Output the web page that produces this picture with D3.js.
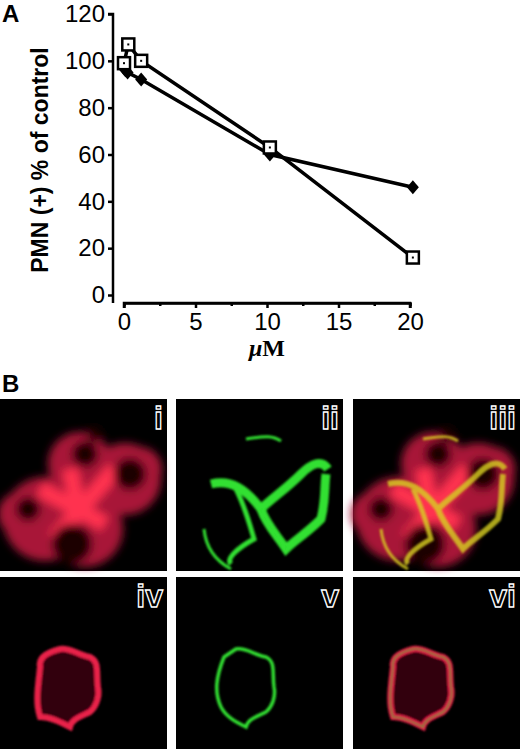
<!DOCTYPE html>
<html><head><meta charset="utf-8">
<script src="https://cdn.jsdelivr.net/npm/d3@7"></script>
<style>body{margin:0;background:#fff}svg{display:block}</style>
</head><body>
<svg id="fig" width="520" height="749"></svg>
<script>
// panel A data
const xTicks = [0, 5, 10, 15, 20];
const yTicks = [0, 20, 40, 60, 80, 100, 120];
const squareX = [0, 0.3, 1.2, 10.2, 20.2];
const squareY = [99, 107, 100, 63, 16];
const diamondX = [0, 0.1, 0.25, 1.2, 10.2, 20.2];
const diamondY = [98, 96, 95, 92, 60, 46];
const panelLabels = ["i", "ii", "iii", "iv", "v", "vi"];

const svg = d3.select('#fig');
const x = d3.scaleLinear().domain([0, 20]).range([124, 410]);
const y = d3.scaleLinear().domain([0, 120]).range([295, 14]);

svg.append('text').attr('x', 2).attr('y', 22).text('A')
  .style('font', 'bold 24px Liberation Sans, Arial');

const yAx = svg.append('g').attr('transform', 'translate(113,0)')
  .call(d3.axisLeft(y).tickValues(yTicks).tickSize(5).tickPadding(3));
const xAx = svg.append('g').attr('transform', 'translate(0,303)')
  .call(d3.axisBottom(x).tickValues(xTicks).tickSize(5).tickPadding(5));
xAx.append('g').call(d3.axisBottom(x).tickValues([2.5, 7.5, 12.5, 17.5]).tickSize(3).tickFormat(''));
[yAx, xAx].forEach(a => {
  a.attr('font-size', 24).attr('font-family', 'Liberation Sans, Arial');
  a.selectAll('path,line').attr('stroke', '#000').attr('stroke-width', 2.5);
  a.selectAll('text').attr('fill', '#000');
});
yAx.select('.domain').attr('d', 'M-5,' + y(120) + 'H0V' + (y(0) + 8));
xAx.select('.domain').attr('d', 'M' + (x(0)) + ',5V0H' + x(20) + 'V5');

svg.append('text').attr('transform', 'translate(48,160) rotate(-90)')
  .attr('text-anchor', 'middle').text('PMN (+) % of control')
  .style('font', 'bold 23px Liberation Sans, Arial');
svg.append('text').attr('x', 267).attr('y', 356).attr('text-anchor', 'middle')
  .style('font', 'bold italic 24px Liberation Serif, Times New Roman')
  .html('<tspan>μ</tspan><tspan font-style="normal">M</tspan>');

const line = d3.line().x(d => x(d[0])).y(d => y(d[1]));
const sq = squareX.map((v, i) => [v, squareY[i]]);
const di = diamondX.map((v, i) => [v, diamondY[i]]);
[sq, di].forEach(s => svg.append('path').attr('d', line(s)).attr('fill', 'none')
  .attr('stroke', '#000').attr('stroke-width', 3.5));
svg.selectAll('.dm').data(di).join('path')
  .attr('transform', d => `translate(${x(d[0])},${y(d[1])})`)
  .attr('d', 'M0,-7L6,0L0,7L-6,0Z').attr('fill', '#000');
svg.selectAll('.sq').data(sq).join('rect')
  .attr('x', d => x(d[0]) - 6).attr('y', d => y(d[1]) - 6)
  .attr('width', 12).attr('height', 12)
  .attr('fill', '#fff').attr('stroke', '#000').attr('stroke-width', 2.5);
svg.selectAll('.sqc').data(sq).join('rect')
  .attr('x', d => x(d[0]) - 1).attr('y', d => y(d[1]) - 1)
  .attr('width', 2).attr('height', 2).attr('fill', '#000');

// panel B
svg.append('text').attr('x', 2).attr('y', 392).text('B')
  .style('font', 'bold 24px Liberation Sans, Arial');
const defs = svg.append('defs');
defs.append('filter').attr('id', 'bl').append('feGaussianBlur').attr('stdDeviation', 4);
defs.append('filter').attr('id', 'bl2').append('feGaussianBlur').attr('stdDeviation', 1.3);

const cols = [0, 176, 353], rows = [399, 577], w = 167, h = 172;
const red = '#e82048', green = '#30e030', yellow = '#d8d020';

function cluster(g, kind) {
  const blobs = [[45, 120, 42], [80, 65, 32], [125, 80, 36], [85, 130, 38], [20, 115, 22], [140, 70, 22]];
  const nuclei = [[85, 55, 13], [95, 35, 8], [130, 75, 16], [72, 145, 20], [28, 110, 12], [110, 100, 0]];
  if (kind !== 'g') {
    const b = g.append('g').attr('filter', 'url(#bl)');
    blobs.forEach(c => b.append('circle').attr('cx', c[0]).attr('cy', c[1]).attr('r', c[2]).attr('fill', '#a81838'));
    b.append('path').attr('d', 'M40,90 L105,125 M115,70 L55,140 M70,70 L80,120').attr('stroke', '#ff3050').attr('stroke-width', 16);
    nuclei.forEach(c => b.append('circle').attr('cx', c[0]).attr('cy', c[1]).attr('r', c[2]).attr('fill', '#1a0000'));
  }
  if (kind !== 'r') {
    const gr = g.append('g').attr('filter', 'url(#bl2)').attr('fill', 'none')
      .attr('stroke', kind === 'g' ? green : yellow).attr('stroke-width', kind === 'g' ? 9 : 6)
      .attr('opacity', kind === 'g' ? 1 : 0.8);
    gr.append('path').attr('d', 'M35,85 C55,80 70,90 85,110 C95,100 110,90 125,75 C135,65 145,60 152,70');
    gr.append('path').attr('d', 'M85,110 C90,125 100,135 110,150 C120,140 130,135 145,120 C150,100 148,90 150,75');
    gr.append('path').attr('d', 'M60,90 C70,110 75,130 78,140 C60,150 50,160 55,165').attr('stroke-width', 5);
    gr.append('path').attr('d', 'M28,130 C30,150 40,162 55,170 M70,40 C85,38 95,35 105,42 M85,110 L110,150').attr('stroke-width', 3);
  }
}
function ring(g, kind) {
  const d = 'M40,90 C38,80 48,75 60,72 C70,70 78,78 90,80 C100,85 96,95 98,110 C100,120 96,130 90,135 C80,140 72,142 70,150 C60,145 50,140 40,140 C35,125 38,110 40,90Z';
  if (kind !== 'g') {
    g.append('path').attr('d', d).attr('fill', '#300408').attr('stroke', red)
      .attr('stroke-width', 6).attr('filter', 'url(#bl2)');
  }
  const dg = 'M60,72 C70,70 78,78 90,80 C100,85 96,95 98,110 C100,120 96,130 90,135 C80,140 72,142 70,150 C60,145 50,140 45,130 C38,115 40,100 48,80 Z';
  if (kind !== 'r') g.append('path').attr('d', kind === 'g' ? dg : d).attr('fill', 'none').attr('stroke', green)
    .attr('stroke-width', kind === 'g' ? 3.5 : 2).attr('opacity', kind === 'g' ? 1 : 0.5).attr('filter', 'url(#bl2)');
}
const kinds = ['r', 'g', 'm'];
panelLabels.forEach((lab, i) => {
  const r = Math.floor(i / 3), c = i % 3;
  const g = svg.append('g').attr('transform', `translate(${cols[c]},${rows[r]})`);
  g.append('rect').attr('width', w).attr('height', h).attr('fill', '#000');
  const cg = g.append('g');
  if (r === 0) cluster(cg, kinds[c]); else ring(cg, kinds[c]);
  g.append('text').attr('x', w - 4).attr('y', 30).attr('text-anchor', 'end').text(lab)
    .attr('fill', '#000').attr('stroke', '#fff').attr('stroke-width', 1.3)
    .style('font', 'bold 32px Liberation Sans Narrow, Arial Narrow, Liberation Sans');
});
</script>
</body></html>
